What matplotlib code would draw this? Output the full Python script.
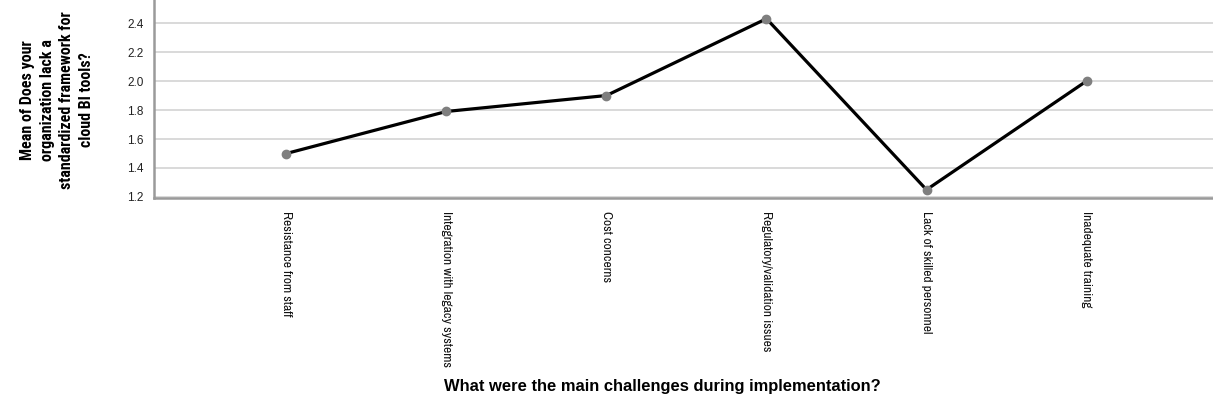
import matplotlib
matplotlib.use("Agg")
import matplotlib.pyplot as plt
import matplotlib.transforms as mtransforms

# Mean score per implementation challenge
challenges = [
    "Resistance from staff",
    "Integration with legacy systems",
    "Cost concerns",
    "Regulatory/validation issues",
    "Lack of skilled personnel",
    "Inadequate training",
]
mean_scores = [1.50, 1.79, 1.90, 2.43, 1.25, 2.00]
y_ticks = [1.2, 1.4, 1.6, 1.8, 2.0, 2.2, 2.4]

NARROW = ["Archivo Narrow", "Roboto Condensed", "DejaVu Sans"]
NARROW_BOLD = ["Roboto Condensed", "Archivo Narrow", "DejaVu Sans"]
REGULAR = ["Liberation Sans", "DejaVu Sans"]

W, H, DPI = 1213, 405, 100
fig = plt.figure(figsize=(W / DPI, H / DPI), dpi=DPI)
fig.patch.set_facecolor("white")

left_px, bottom_px = 153.5, 198.0
ax = fig.add_axes([left_px / W, (H - bottom_px) / H, 1 - left_px / W, bottom_px / H])

xs = list(range(len(challenges)))
ax.plot(xs, mean_scores, color="black", linewidth=2.3, solid_joinstyle="miter", zorder=3)
ax.plot(xs, mean_scores, linestyle="none", marker="o", markersize=6,
        markerfacecolor="#7f7f7f", markeredgecolor="#7f7f7f", zorder=4)

ax.set_xlim(-0.83, 5.79)
ax.set_ylim(1.193, 2.559)

ax.set_yticks(y_ticks)
ax.set_yticklabels([f"{v:.1f}" for v in y_ticks], family=REGULAR, fontsize=8.5, color="#222222")
ax.yaxis.grid(True, color="#d9d9d9", linewidth=1.4, zorder=0)
ax.set_axisbelow(True)

ax.set_xticks(xs)
ax.set_xticklabels(challenges, rotation=270, ha="center", va="top",
                   family=NARROW, fontsize=9.7, color="#111111")
shift = mtransforms.ScaledTranslation(-6 / DPI, 0, fig.dpi_scale_trans)
for lbl in ax.get_xticklabels():
    lbl.set_transform(lbl.get_transform() + shift)

ax.tick_params(axis="both", length=0)
ax.tick_params(axis="x", pad=9)
ax.tick_params(axis="y", pad=7)

for side in ("top", "right"):
    ax.spines[side].set_visible(False)
for side in ("left", "bottom"):
    ax.spines[side].set_color("#9a9a9a")
    ax.spines[side].set_linewidth(1.8)

ax.set_ylabel("Mean of Does your\norganization lack a\nstandardized framework for\ncloud BI tools?",
              family=NARROW_BOLD, fontweight="bold", fontsize=11.5,
              linespacing=1.4, color="black", va="center")
ax.yaxis.set_label_coords((57 - left_px) / (W - left_px), (bottom_px - 100) / bottom_px)

fig.text(662 / W, (H - 387) / H, "What were the main challenges during implementation?",
         family=REGULAR, fontweight="bold", fontsize=11.9,
         ha="center", va="center", color="black")

fig.savefig("out.png", dpi=DPI)
